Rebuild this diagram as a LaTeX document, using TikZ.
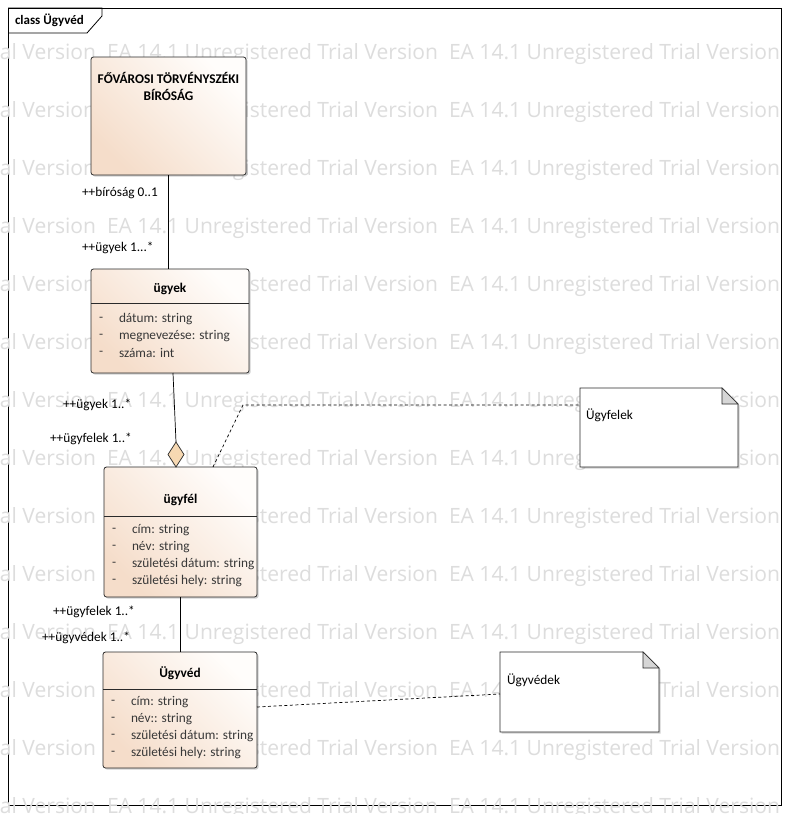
\documentclass[tikz,border=0pt]{standalone}
\usepackage{fontspec}
\setmainfont{Carlito}
\newfontfamily\wmfont{Open Sans}
\usetikzlibrary{shapes.geometric,shadows}
\definecolor{clsA}{HTML}{F5DDCA}
\definecolor{clsB}{HTML}{FFFDFB}
\definecolor{wm}{HTML}{DDDDDD}
\definecolor{foldc}{HTML}{D6D6D6}
\definecolor{attrc}{HTML}{383838}
\definecolor{boxline}{HTML}{2A2A2A}
\definecolor{aggfill}{HTML}{F6D8B2}
\begin{document}
\begin{tikzpicture}[x=1pt,y=-1pt,
  every node/.style={inner sep=0pt, outer sep=0pt},
  frame/.style={draw=black, line width=0.8pt},
  wmark/.style={text=wm, anchor=base west},
  cls/.style={draw=boxline, line width=0.8pt, rounded corners=2.5pt,
    left color=clsA, right color=clsB, shading angle=135,
    drop shadow={shadow xshift=1.6pt, shadow yshift=-1.6pt, opacity=0.3, fill=black!60}},
  notebg/.style={fill=white, draw=boxline, line width=0.8pt,
    drop shadow={shadow xshift=1.6pt, shadow yshift=-1.6pt, opacity=0.3, fill=black!60}},
  hdr/.style={font=\bfseries\fontsize{13.3}{17}\selectfont, align=center},
  attr/.style={font=\fontsize{13.3}{16}\selectfont, text=attrc, anchor=west},
  lbl/.style={font=\fontsize{13.3}{16}\selectfont, anchor=west},
  conn/.style={draw=black, line width=0.7pt},
  dconn/.style={conn, dash pattern=on 3pt off 2.5pt}
]
\useasboundingbox[fill=white] (0,0) rectangle (788,814);

% frame
\node[frame, minimum width=773pt, minimum height=797pt, anchor=north west] (frame) at (8,8) {};
\draw[frame] (frame.north west) -- ++(94,0) -- ++(0,8) -- ++(-15,17) -- (frame.west |- 0,33);
\node[font=\bfseries\fontsize{13}{15}\selectfont, anchor=west] (title) at (15,20) {class Ügyvéd};

% watermark
\foreach \k in {0,...,13} {
  \foreach \xx [count=\j] in {-235,107,449} {
    \node[wmark] (wm-\k-\j) at (\xx,{59+58*\k}) {\resizebox{331pt}{!}{\wmfont EA 14.1 Unregistered Trial Version}};
  }
}

% classes
\node[cls, minimum width=155pt, minimum height=118pt] (bir) at (168.5,116) {};
\node[cls, minimum width=158pt, minimum height=104pt] (ugyek) at (170,321) {};
\node[cls, minimum width=153pt, minimum height=130pt] (ugyfel) at (180.5,532) {};
\node[cls, minimum width=154pt, minimum height=116pt] (ugyved) at (180,710) {};

% connectors
\draw[conn] (bir.south) -- (bir.south |- ugyek.north);
\node[diamond, draw=boxline, line width=0.7pt, fill=aggfill, minimum width=16pt, minimum height=25pt, aspect=0.64] (agg) at (176,454.5) {};
\draw[conn] ([xshift=3pt]ugyek.south) -- (agg.north);
\draw[conn] (ugyfel.south) -- (ugyfel.south |- ugyved.north);

% notes
\node[minimum width=158pt, minimum height=79pt] (n1) at (659,427.5) {};
\node[minimum width=159pt, minimum height=80pt] (n2) at (579.5,692) {};
\foreach \n in {n1,n2} {
  \draw[notebg] (\n.north west) -- ([xshift=-16pt]\n.north east) -- ([yshift=-16pt]\n.north east) -- (\n.south east) -- (\n.south west) -- cycle;
  \draw[fill=foldc, draw=boxline, line width=0.6pt] ([xshift=-16pt]\n.north east) -- ([xshift=-16pt,yshift=-16pt]\n.north east) -- ([yshift=-16pt]\n.north east) -- cycle;
}
\node[lbl] (n1-t) at (586,415) {Ügyfelek};
\node[lbl] (n2-t) at (507,680) {Ügyvédek};

\coordinate (k1) at (243,405);
\draw[dconn] ([xshift=32.5pt]ugyfel.north) -- (k1) -- (k1 -| n1.west);
\draw[dconn] ([yshift=3pt]ugyved.east) -- ([yshift=-2pt]n2.west);

% class contents
\node[hdr] (bir-t) at (168.5,86.5) {FŐVÁROSI TÖRVÉNYSZÉKI\\BÍRÓSÁG};

\node[hdr] (ugyek-t) at (170,289) {ügyek};
\draw[draw=boxline, line width=0.8pt] (ugyek.west |- 0,303) -- (ugyek.east |- 0,303);
\foreach \yy/\txt [count=\i] in {319/dátum: string, 336/megnevezése: string, 353/száma: int} {
  \node[attr] (ugyek-d\i) at (99,\yy) {-};
  \node[attr] (ugyek-a\i) at (119,\yy) {\txt};
}

\node[hdr] (ugyfel-t) at (180.5,500) {ügyfél};
\draw[draw=boxline, line width=0.8pt] (ugyfel.west |- 0,516) -- (ugyfel.east |- 0,516);
\foreach \yy/\txt [count=\i] in {530/cím: string, 547/név: string, 564/születési dátum: string, 581/születési hely: string} {
  \node[attr] (ugyfel-d\i) at (112,\yy) {-};
  \node[attr] (ugyfel-a\i) at (132,\yy) {\txt};
}

\node[hdr] (ugyved-t) at (180,673) {Ügyvéd};
\draw[draw=boxline, line width=0.8pt] (ugyved.west |- 0,689) -- (ugyved.east |- 0,689);
\foreach \yy/\txt [count=\i] in {702/cím: string, 719/név:: string, 736/születési dátum: string, 753/születési hely: string} {
  \node[attr] (ugyved-d\i) at (111,\yy) {-};
  \node[attr] (ugyved-a\i) at (131,\yy) {\txt};
}

% role labels
\node[lbl] (l1) at (82,193) {++bíróság 0..1};
\node[lbl] (l2) at (82,248) {++ügyek 1...*};
\node[lbl] (l3) at (63,405) {++ügyek 1..*};
\node[lbl] (l4) at (50,439) {++ügyfelek 1..*};
\node[lbl] (l5) at (53,612) {++ügyfelek 1..*};
\node[lbl] (l6) at (42,638) {++ügyvédek 1..*};
\end{tikzpicture}
\end{document}
